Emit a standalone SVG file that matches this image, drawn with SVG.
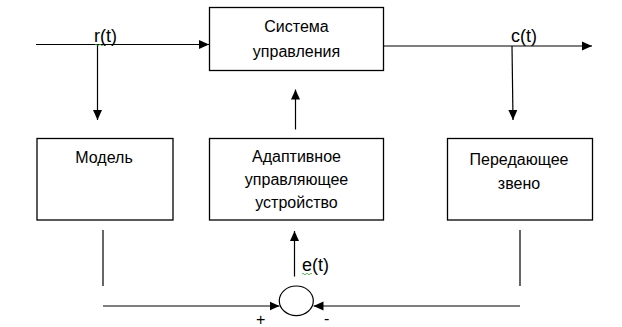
<svg xmlns="http://www.w3.org/2000/svg" width="622" height="327" viewBox="0 0 622 327">
<defs>
<marker id="arr" viewBox="0 0 10 10" refX="10" refY="5" markerWidth="10" markerHeight="10" markerUnits="userSpaceOnUse" orient="auto">
<path d="M0,0.5 L10,5 L0,9.5 Z" fill="#000"/>
</marker>
<style>
.box{fill:#fff;stroke:#000;stroke-width:1.3}
.t{font-family:"Liberation Sans",Arial,sans-serif;font-size:16px;fill:#000;text-anchor:middle}
.lbl{font-family:"Liberation Sans",Arial,sans-serif;font-size:18px;fill:#000}
.ln{stroke:#000;stroke-width:1.2;fill:none}
.arrow{marker-end:url(#arr)}
.sq{stroke:#3a9a3a;stroke-width:0.8;fill:none}
</style>
</defs>
<rect width="622" height="327" fill="#fff"/>
<g id="connectors">
<line class="ln arrow" x1="36" y1="44.5" x2="209" y2="44.5"/>
<line class="ln arrow" x1="97.5" y1="44.5" x2="97.5" y2="120"/>
<line class="ln arrow" x1="383" y1="46" x2="592" y2="46"/>
<line class="ln arrow" x1="512" y1="46" x2="513" y2="120"/>
<line class="ln arrow" x1="295.5" y1="129.5" x2="295.5" y2="89.5"/>
<line class="ln" x1="103" y1="230" x2="103" y2="286"/>
<line class="ln" x1="520" y1="230" x2="520" y2="286"/>
<line class="ln arrow" x1="294.5" y1="276.5" x2="294.5" y2="231"/>
<line class="ln arrow" x1="103" y1="306" x2="279.5" y2="306"/>
<line class="ln arrow" x1="520" y1="306" x2="313.5" y2="306"/>
</g>
<g id="sys">
<rect class="box" x="209.5" y="7.5" width="174" height="63"/>
<text class="t" x="296.5" y="32">Система</text>
<text class="t" x="296.5" y="57">управления</text>
</g>
<g id="model">
<rect class="box" x="37" y="138.5" width="136" height="81.5"/>
<text class="t" x="104" y="163">Модель</text>
</g>
<g id="adaptive">
<rect class="box" x="209.5" y="138.5" width="174" height="81.5"/>
<text class="t" x="296.5" y="162">Адаптивное</text>
<text class="t" x="296.5" y="185">управляющее</text>
<text class="t" x="296.5" y="208">устройство</text>
</g>
<g id="transfer">
<rect class="box" x="447.5" y="138.5" width="145" height="81.5"/>
<text class="t" x="519" y="165">Передающее</text>
<text class="t" x="519" y="189">звено</text>
</g>
<g id="sum">
<ellipse cx="296.3" cy="300.8" rx="17" ry="14.8" fill="#fff" stroke="#000" stroke-width="1.2"/>
</g>
<g id="labels">
<text class="lbl" x="94" y="42">r(t)</text>
<path class="sq" d="M95,45 q1,-1.5 2,0 t2,0 t2,0 t2,0"/>
<text class="lbl" x="511" y="42">c(t)</text>
<text class="lbl" x="302" y="271">e(t)</text>
<path class="sq" d="M302,274 q1,-1.5 2,0 t2,0 t2,0 t2,0 t2,0"/>
<text class="lbl" x="256" y="325" style="font-size:16px">+</text>
<text class="lbl" x="324" y="324" style="font-size:16px">-</text>
</g>
</svg>
